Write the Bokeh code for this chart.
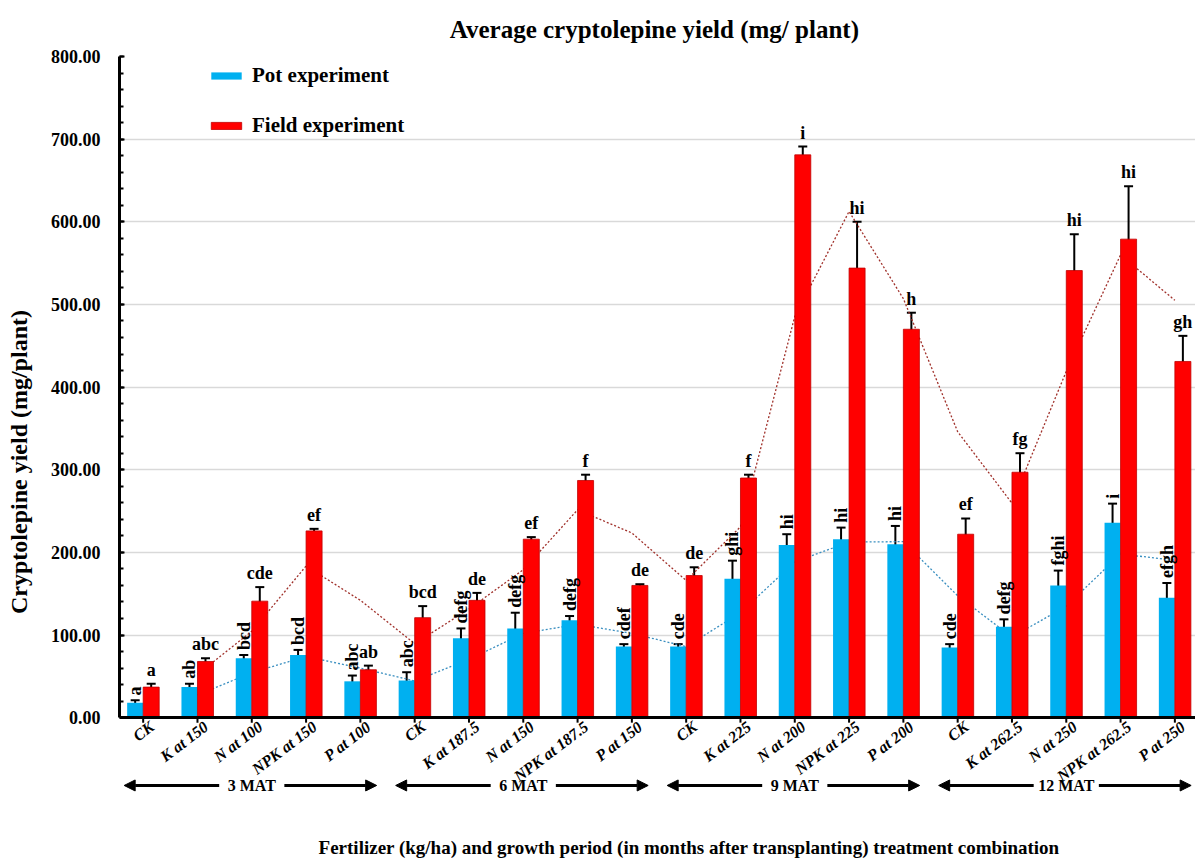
import numpy as np
from bokeh.plotting import figure
from bokeh.models import (ColumnDataSource, Range1d, FixedTicker, NumeralTickFormatter,
                          Whisker, TeeHead, Arrow, NormalHead, Legend, LegendItem, LinearAxis)
from bokeh.transform import dodge
from bokeh.core.properties import value
from bokeh.embed import file_html
from bokeh.resources import INLINE

# ---------------- data ----------------
treatments = ["CK", "K at 150", "N at 100", "NPK at 150", "P at 100",
              "CK", "K at 187.5", "N at 150", "NPK at 187.5", "P at 150",
              "CK", "K at 225", "N at 200", "NPK at 225", "P at 200",
              "CK", "K at 262.5", "N at 250", "NPK at 262.5", "P at 250"]
periods = ["3 MAT", "6 MAT", "9 MAT", "12 MAT"]

pot = [18, 37, 72, 76, 44,
       45, 96, 108, 118, 86,
       86, 168, 209, 216, 210,
       85, 110, 160, 236, 145]
pot_err = [3, 4, 4, 6, 7,
           10, 12, 19, 5, 3,
           3, 22, 13, 14, 22,
           4, 9, 18, 23, 18]
field = [37, 68, 141, 226, 58,
         121, 142, 216, 287, 160,
         172, 290, 681, 544, 470,
         222, 297, 541, 579, 431]
field_err = [4, 4, 17, 2.5, 5,
             14, 9, 2.5, 7, 1.5,
             10, 4, 10, 56, 20,
             19, 23, 44, 64, 31]
pot_letters = ["a", "ab", "bcd", "bcd", "abc",
               "abc", "defg", "defg", "defg", "cdef",
               "cde", "ghi", "hi", "hi", "hi",
               "cde", "defg", "fghi", "i", "efgh"]
field_letters = ["a", "abc", "cde", "ef", "ab",
                 "bcd", "de", "ef", "f", "de",
                 "de", "f", "i", "hi", "h",
                 "ef", "fg", "hi", "hi", "gh"]
y_ticks = [0, 100, 200, 300, 400, 500, 600, 700, 800]

# ---------------- derived ----------------
n = len(treatments)
idx = np.arange(n)
pot_a = np.array(pot, float)
field_a = np.array(field, float)
pot_e = np.array(pot_err, float)
field_e = np.array(field_err, float)

src = ColumnDataSource(dict(
    idx=idx, pot=pot_a, field=field_a,
    pot_lo=pot_a - pot_e, pot_hi=pot_a + pot_e,
    field_lo=field_a - field_e, field_hi=field_a + field_e,
    pot_lab_y=pot_a + pot_e + 6, field_lab_y=field_a + field_e + 17,
    pot_let=pot_letters, field_let=field_letters,
))
# 2-period moving-average trendlines (as in the original spreadsheet chart)
pot_ma = (pot_a[1:] + pot_a[:-1]) / 2
field_ma = (field_a[1:] + field_a[:-1]) / 2

SERIF = "Liberation Serif"
BLUE = "#00B0F0"
RED = "#FF0000"
bw = 0.295
X0, X1 = -0.436, 19.38
LAB_SHIFT = 0.16   # rotated labels end slightly right of their tick, as in the original

p = figure(width=1195, height=861, output_backend="svg", toolbar_location=None,
           x_range=Range1d(X0, X1), y_range=Range1d(-174, 800),
           x_axis_location=None,
           min_border_left=119, min_border_right=0, min_border_top=55, min_border_bottom=0)
p.outline_line_color = None
p.xgrid.visible = False

# title
p.title.text = "Average cryptolepine yield  (mg/ plant)"
p.title.align = "center"
p.title.text_font = SERIF
p.title.text_font_style = "bold"
p.title.text_font_size = "25px"
p.title.text_color = "black"
p.title.standoff = 27

# y axis
yt = FixedTicker(ticks=y_ticks, minor_ticks=list(range(0, 801, 20)))
p.yaxis.ticker = yt
p.ygrid.ticker = yt
p.ygrid.grid_line_color = "#D9D9D9"
p.ygrid.grid_line_width = 1.5
p.yaxis.formatter = NumeralTickFormatter(format="0.00")
p.yaxis.bounds = (0, 800)
p.yaxis.axis_line_width = 3
p.yaxis.axis_line_color = "black"
p.yaxis.major_tick_in = 5
p.yaxis.major_tick_out = 0
p.yaxis.minor_tick_in = 4
p.yaxis.minor_tick_out = 0
p.yaxis.major_tick_line_width = 2
p.yaxis.minor_tick_line_width = 2
p.yaxis.major_tick_line_color = "black"
p.yaxis.minor_tick_line_color = "black"
p.yaxis.major_label_text_font = SERIF
p.yaxis.major_label_text_font_style = "bold"
p.yaxis.major_label_text_font_size = "18px"
p.yaxis.major_label_text_color = "black"
p.yaxis.major_label_standoff = 19

# outer axis carrying only the y label
ylab = LinearAxis(ticker=FixedTicker(ticks=[]), bounds=(-166, 800),
                  axis_line_color=None, major_tick_line_color=None, minor_tick_line_color=None,
                  major_tick_out=0, major_tick_in=0, minor_tick_out=0, minor_tick_in=0,
                  major_label_standoff=0,
                  axis_label="Cryptolepine yield  (mg/plant)",
                  axis_label_text_font=SERIF, axis_label_text_font_style="bold",
                  axis_label_text_font_size="24px", axis_label_text_color="black",
                  axis_label_standoff=16)
p.add_layout(ylab, "left")

# x axis drawn at y = 0; its labels use a slightly shifted copy of the x range
p.extra_x_ranges = {"lab": Range1d(X0 - LAB_SHIFT, X1 - LAB_SHIFT)}
xax = LinearAxis(x_range_name="lab", fixed_location=0,
                 ticker=FixedTicker(ticks=list(idx)),
                 major_label_overrides={int(i): t for i, t in zip(idx, treatments)},
                 major_label_orientation=0.65,
                 axis_line_width=3, axis_line_color="black",
                 major_tick_in=0, major_tick_out=0, minor_tick_line_color=None,
                 major_label_standoff=7,
                 major_label_text_font=SERIF, major_label_text_font_style="bold italic",
                 major_label_text_font_size="16px", major_label_text_color="black")
p.add_layout(xax, "below")
# tick marks at the category centres
p.segment(x0=idx, y0=np.zeros(n), x1=idx, y1=np.full(n, -6.0),
          line_color="black", line_width=2)

# trendlines (under the bars)
p.line(idx[1:], pot_ma, line_color="#3A8FC0", line_width=1.3, line_dash="2 2")
p.line(idx[1:], field_ma, line_color="#A0302A", line_width=1.3, line_dash="2 2")

# bars
rp = p.vbar(x=dodge("idx", -bw / 2), top="pot", bottom=0, width=bw, source=src,
            fill_color=BLUE, line_color=None)
rf = p.vbar(x=dodge("idx", bw / 2), top="field", bottom=0, width=bw, source=src,
            fill_color=RED, line_color="#C00000", line_width=0.8)

# error bars
for base, lo, hi in ((dodge("idx", -bw / 2), "pot_lo", "pot_hi"),
                     (dodge("idx", bw / 2), "field_lo", "field_hi")):
    p.add_layout(Whisker(source=src, base=base, lower=lo, upper=hi,
                         line_color="black", line_width=2,
                         upper_head=TeeHead(size=9, line_width=2, line_color="black"),
                         lower_head=TeeHead(size=9, line_width=2, line_color="black")))

# significance letters
p.text(x=dodge("idx", bw / 2), y="field_lab_y", text="field_let", source=src,
       text_font=value(SERIF), text_font_style="bold", text_font_size="18px",
       text_align="center", text_baseline="alphabetic", text_color="black")
p.text(x=dodge("idx", -bw / 2), y="pot_lab_y", text="pot_let", source=src, angle=np.pi / 2,
       text_font=value(SERIF), text_font_style="bold", text_font_size="18px",
       text_align="left", text_baseline="middle", text_color="black")

# period arrows under the axis
starts = np.arange(0, n, 5)
centers = starts + 2.0
arrow_y = -82
gap = 0.6
for s, c in zip(starts, centers):
    p.add_layout(Arrow(x_start=c - gap, y_start=arrow_y, x_end=s - 0.35, y_end=arrow_y,
                       line_width=3, line_color="black",
                       end=NormalHead(size=11, fill_color="black", line_color="black")))
    p.add_layout(Arrow(x_start=c + gap, y_start=arrow_y, x_end=s + 4.3, y_end=arrow_y,
                       line_width=3, line_color="black",
                       end=NormalHead(size=11, fill_color="black", line_color="black")))
p.text(x=centers, y=[arrow_y] * len(centers), text=periods,
       text_font=value(SERIF), text_font_style="bold", text_font_size="16px",
       text_align="center", text_baseline="middle", text_color="black")

# x label
p.text(x=[10.1], y=[-157],
       text=["Fertilizer (kg/ha) and growth period  (in months after transplanting) treatment combination"],
       text_font=value(SERIF), text_font_style="bold", text_font_size="19px",
       text_align="center", text_baseline="middle", text_color="black")

# legend
legend = Legend(items=[LegendItem(label="Pot experiment", renderers=[rp]),
                       LegendItem(label="Field experiment", renderers=[rf])],
                location=(88, 723), padding=0, margin=0, spacing=25,
                glyph_width=38, glyph_height=9, label_height=24, label_standoff=7,
                label_text_font=SERIF, label_text_font_style="bold",
                label_text_font_size="21px", label_text_color="black",
                border_line_color=None, background_fill_alpha=0)
p.add_layout(legend)

open("out.html", "w").write(file_html(p, INLINE))
